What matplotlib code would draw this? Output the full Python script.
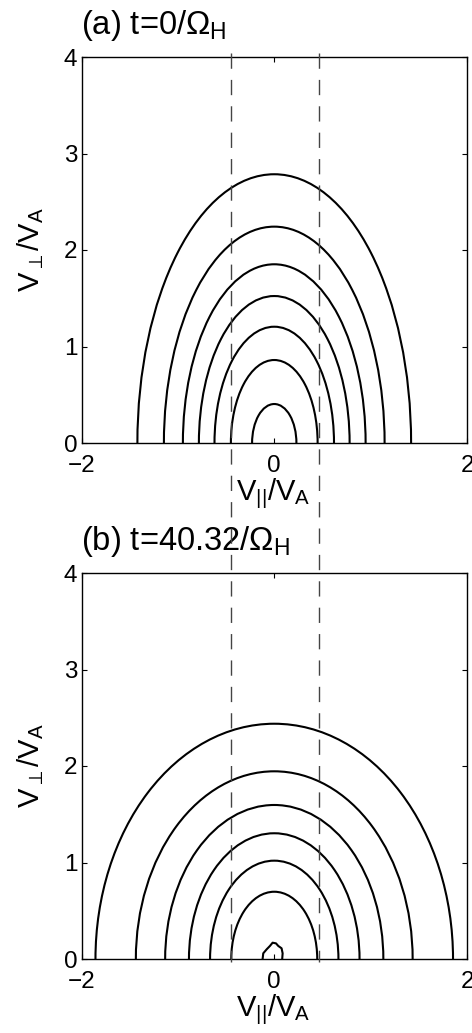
import matplotlib
matplotlib.use("Agg")
import matplotlib.pyplot as plt
from matplotlib.patches import Arc
from matplotlib.lines import Line2D
from matplotlib.transforms import blended_transform_factory

plt.rcParams.update({
    "font.family": ["Liberation Sans", "DejaVu Sans"],
    "mathtext.fontset": "custom",
    "mathtext.rm": "Liberation Sans",
    "mathtext.it": "Liberation Sans:italic",
    "mathtext.bf": "Liberation Sans:bold",
    "mathtext.fallback": "stixsans",
})

# Contour extents of the distribution: half-width along V_par at V_perp=0,
# and peak height along V_perp at V_par=0 (units of V_A)
par_extent_a = [1.42, 1.145, 0.948, 0.782, 0.62, 0.45, 0.23]
perp_peak_a = [2.785, 2.242, 1.852, 1.523, 1.205, 0.86, 0.404]

par_extent_b = [1.855, 1.436, 1.132, 0.885, 0.666, 0.446]
perp_peak_b = [2.438, 1.945, 1.596, 1.303, 1.019, 0.697]

# Small closed contour near the origin at late time
blob_par = [-0.120, -0.114, -0.079, -0.045, -0.017, 0.018, 0.042, 0.076, 0.087, 0.083]
blob_perp = [0.007, 0.059, 0.100, 0.135, 0.169, 0.162, 0.135, 0.111, 0.059, 0.007]

# Resonance velocities marked by the dashed lines
v_res = [-0.45, 0.46]

titles = [r"(a) t=0/Ω$_{\mathrm{H}}$", r"(b) t=40.32/Ω$_{\mathrm{H}}$"]
xticks = [-2, 0, 2]
yticks = [0, 1, 2, 3, 4]

W, H = 472, 1033
fig = plt.figure(figsize=(W / 100, H / 100), dpi=100)

ax_left, ax_right = 81.5, 467.0
panels_px = [(57.0, 443.0), (573.0, 959.0)]
axes = []
for top, bot in panels_px:
    ax = fig.add_axes([ax_left / W, 1 - bot / H, (ax_right - ax_left) / W, (bot - top) / H])
    axes.append(ax)

tick_fs = 17.5
label_fs = 21
title_fs = 23.5
for ax, (top, bot), title in zip(axes, panels_px, titles):
    ax.set_xlim(-2, 2)
    ax.set_ylim(0, 4)
    ax.set_xticks(xticks)
    ax.set_yticks(yticks)
    ax.set_xticklabels(["\u22122", "0", "2"])
    ax.set_yticklabels([str(t) for t in yticks])
    ax.tick_params(direction="in", length=3.5, width=0.8, top=True, right=True,
                   labelsize=tick_fs, colors="black")
    ax.tick_params(axis="x", pad=9)
    ax.tick_params(axis="y", pad=3)
    for sp in ax.spines.values():
        sp.set_linewidth(1.0)
        sp.set_color("black")
    fig.text(273.5 / W, 1 - (bot + 57) / H, r"V$_{||}$/V$_{\mathrm{A}}$",
             ha="center", va="baseline", fontsize=label_fs)
    fig.text(31 / W, 1 - ((top + bot) / 2) / H, r"V$_{\perp}$/V$_{\mathrm{A}}$",
             ha="center", va="center", rotation=90, fontsize=label_fs)
    fig.text(81 / W, 1 - (top - 23) / H, title, ha="left", va="baseline",
             fontsize=title_fs)

ax_a, ax_b = axes

for a, b in zip(par_extent_a, perp_peak_a):
    ax_a.add_patch(Arc((0, 0), 2 * a, 2 * b, theta1=0, theta2=180,
                       color="black", lw=1.5))

for a, b in zip(par_extent_b, perp_peak_b):
    ax_b.add_patch(Arc((0, 0), 2 * a, 2 * b, theta1=0, theta2=180,
                       color="black", lw=1.5))
ax_b.plot(blob_par, blob_perp, color="black", lw=1.5, solid_joinstyle="round")

# Dashed resonance lines running through both panels
trans = blended_transform_factory(ax_a.transData, fig.transFigure)
y_top = 1 - 53 / H
y_bot = 1 - 962 / H
for v in v_res:
    fig.add_artist(Line2D([v, v], [y_top, y_bot], transform=trans,
                          color="#444444", lw=1.0, linestyle=(0, (11, 8)),
                          zorder=5))

fig.savefig("out.png", dpi=100)
